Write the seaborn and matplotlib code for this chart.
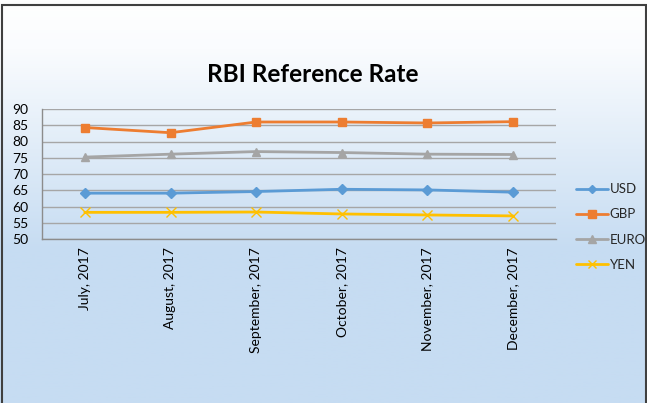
import numpy as np
import pandas as pd
import matplotlib
matplotlib.use("Agg")
import matplotlib.pyplot as plt
import seaborn as sns
from matplotlib.colors import LinearSegmentedColormap
from matplotlib.patches import Rectangle

months = ["July, 2017", "August, 2017", "September, 2017", "October, 2017",
          "November, 2017", "December, 2017"]
usd = [64.1, 64.1, 64.6, 65.3, 65.1, 64.4]
gbp = [84.3, 82.7, 86.0, 86.0, 85.7, 86.1]
euro = [75.2, 76.1, 76.9, 76.6, 76.1, 76.0]
yen = [58.2, 58.2, 58.3, 57.7, 57.4, 57.1]
series_names = ["USD", "GBP", "EURO", "YEN"]
yticks = [50, 55, 60, 65, 70, 75, 80, 85, 90]

df = pd.DataFrame({"Month": months * 4,
                   "Rate": usd + gbp + euro + yen,
                   "Currency": np.repeat(series_names, len(months))})

sns.set_theme(style="white")
plt.rcParams["font.family"] = ["Lato", "DejaVu Sans"]

fig = plt.figure(figsize=(6.47, 4.03), dpi=100)

# background gradient
bg = fig.add_axes([0, 0, 1, 1], zorder=-10)
cmap = LinearSegmentedColormap.from_list(
    "bg", [(0.0, "#FFFFFF"), (0.12, "#FAFCFE"), (0.62, "#C6DCF2"), (1.0, "#C6DCF2")])
grad = np.linspace(0, 1, 256).reshape(-1, 1)
bg.imshow(grad, aspect="auto", cmap=cmap, extent=[0, 1, 0, 1], origin="upper")
bg.set_axis_off()
fig.patches.append(Rectangle((1.5 / 647, -0.01), 1 - 3 / 647, 1 - 5.5 / 403 + 0.01,
                             transform=fig.transFigure, fill=False,
                             edgecolor="#404040", linewidth=1.5, zorder=5))

ax = fig.add_axes([42 / 647, 1 - 239 / 403, (556 - 42) / 647, 130 / 403])
ax.set_facecolor("none")

palette = {"USD": "#5B9BD5", "GBP": "#ED7D31", "EURO": "#A5A5A5", "YEN": "#FFC000"}
markers = {"USD": "D", "GBP": "s", "EURO": "^", "YEN": "x"}
msizes = {"USD": 5, "GBP": 6, "EURO": 6, "YEN": 6.5}
for name in series_names:
    sub = df[df["Currency"] == name]
    sns.lineplot(data=sub, x="Month", y="Rate", color=palette[name], marker=markers[name],
                 markeredgecolor=palette[name], sort=False, linewidth=2.0,
                 markersize=msizes[name], markeredgewidth=1.0,
                 label=name, ax=ax, zorder=3)

ax.set_ylim(50, 90)
ax.set_xlim(-0.5, 5.5)
ax.set_yticks(yticks)
ax.set_yticklabels([str(t) for t in yticks], fontsize=10, color="#000000")
ax.tick_params(axis="x", labelrotation=90, labelsize=10, colors="#000000", length=0, pad=6)
ax.tick_params(axis="y", length=0, pad=10)
ax.grid(axis="y", color="#A6A6A6", linewidth=1)
ax.grid(axis="x", visible=False)
ax.set_xlabel("")
ax.set_ylabel("")
for s in ["top", "right"]:
    ax.spines[s].set_visible(False)
for s in ["left", "bottom"]:
    ax.spines[s].set_color("#8C8C8C")
    ax.spines[s].set_linewidth(1)

fig.text(313 / 647, 1 - 75 / 403, "RBI Reference Rate", ha="center", va="center",
         fontsize=17.5, fontweight="bold", color="#000000")

handles, labels = ax.get_legend_handles_labels()
ax.legend(handles, labels, loc="center left", bbox_to_anchor=(576 / 647, 1 - 227 / 403),
          bbox_transform=fig.transFigure, frameon=False, fontsize=9.5,
          borderpad=0, borderaxespad=0,
          handlelength=2.4, handletextpad=0.15, labelspacing=1.0, markerscale=0.85)

fig.savefig("out.png", dpi=100)
